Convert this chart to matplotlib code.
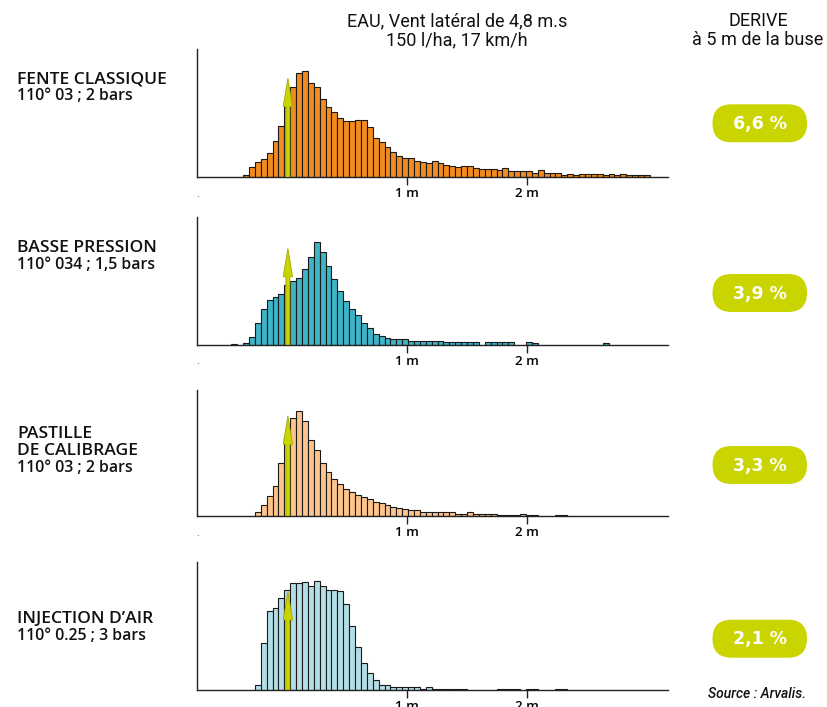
import numpy as np
import matplotlib
matplotlib.use("Agg")
import matplotlib.pyplot as plt
from matplotlib.patches import FancyBboxPatch

# ---------------- data ----------------
bin_start = -0.461   # left edge of first bin (m)
bin_width = 0.049    # bin width (m)
nozzle_x = 0.01      # position of the yellow arrow (m)

header_left = ["EAU, Vent latéral de 4,8 m.s", "150 l/ha, 17 km/h"]
header_right = ["DERIVE", "à 5 m de la buse"]

panel_labels = [
    ["FENTE CLASSIQUE", "110° 03 ; 2 bars"],
    ["BASSE PRESSION", "110° 034 ; 1,5 bars"],
    ["PASTILLE", "DE CALIBRAGE", "110° 03 ; 2 bars"],
    ["INJECTION D’AIR", "110° 0.25 ; 3 bars"],
]
drift_values = ["6,6 %", "3,9 %", "3,3 %", "2,1 %"]
xtick_values = [1, 2]
xtick_labels = ["1 m", "2 m"]
source_text = "Source : Arvalis."

fente_classique = [0, 0,
    8, 30, 45, 55, 72, 109, 154, 212, 270, 312, 320, 282, 272, 234, 212,
    197, 179, 168, 168, 171, 171, 150, 117, 105, 90, 76, 64, 59, 57, 50,
    45, 43, 48, 42, 38, 34, 31, 33, 33, 28, 24, 24, 24, 21, 28, 18, 18,
    18, 18, 14, 21, 14, 14, 14, 7, 11, 7, 11, 11, 11, 11, 7, 11, 7, 11,
    7, 7, 7, 7]
basse_pression = [4, 0,
    7, 23, 65, 108, 135, 143, 152, 181, 193, 201, 227, 263, 309, 278, 238,
    199, 163, 132, 109, 89, 67, 52, 32, 27, 20, 18, 17, 17, 13, 12, 11,
    11, 11, 11, 9, 9, 9, 9, 9, 9, 0, 8, 8, 8, 8, 8, 0, 0, 9, 6,
    0, 0, 0, 0, 0, 0, 0, 0, 0, 0, 0, 5, 0, 0, 0, 0, 0, 0, 0]
pastille = [0, 0,
    0, 0, 11, 32, 59, 89, 158, 238, 295, 315, 285, 229, 199, 159, 131,
    110, 95, 81, 73, 64, 57, 51, 42, 39, 32, 27, 24, 21, 17, 17, 13,
    13, 13, 11, 11, 11, 7, 7, 11, 7, 7, 7, 5, 2, 2, 2, 2, 7, 2, 2,
    0, 0, 0, 2, 2, 0, 0, 0, 0, 0, 0, 0, 0, 0, 0, 0, 0, 0, 0]
injection_air = [0, 0,
    0, 0, 14, 141, 236, 245, 276, 300, 320, 320, 323, 311, 327, 313, 300,
    299, 296, 257, 191, 129, 81, 50, 29, 16, 14, 10, 8, 8, 8, 8, 2,
    8, 2, 2, 2, 2, 2, 2, 0, 0, 0, 0, 0, 2, 2, 2, 2, 0, 2, 2,
    0, 0, 0, 2, 2, 0, 0, 0, 0, 0, 0, 0, 0, 0, 0, 0, 0, 0, 0]
arrow_heights = [297, 290, 300, 295]

series = [fente_classique, basse_pression, pastille, injection_air]
bar_colors = ["#f28c1e", "#3db5c7", "#fdc58c", "#b4dee6"]

# ---------------- layout ----------------
W, H = 827, 707
fig = plt.figure(figsize=(W / 100, H / 100), dpi=100)
ov = fig.add_axes([0, 0, 1, 1], zorder=0)
ov.set_xlim(0, W)
ov.set_ylim(H, 0)
ov.axis("off")

panel_px = [(49.3, 177.3), (217.3, 345.0), (390.0, 516.0), (561.7, 690.0)]
label_y = [[79, 96], [248, 265], [434, 451, 468], [619, 636]]
badge_y = [123.3, 293.0, 465.0, 638.7]
ax_left, ax_right = 197, 668
lime = "#cad400"

for i, (top, bot) in enumerate(panel_px):
    ax = fig.add_axes([ax_left / W, (H - bot) / H, (ax_right - ax_left) / W, (bot - top) / H], zorder=1)
    ax.patch.set_alpha(0)
    h = np.array(series[i], dtype=float)
    x = bin_start + bin_width * np.arange(len(h))
    m = h > 0
    ax.bar(x[m], h[m], width=bin_width, align="edge", color=bar_colors[i],
           edgecolor="#1a1a1a", linewidth=0.8, zorder=2)
    ax.set_xlim((ax_left - 286.7) / 120.3, (ax_right - 286.7) / 120.3)
    ax.set_ylim(0, 3 * (bot - top))
    for s in ["top", "right"]:
        ax.spines[s].set_visible(False)
    for s in ["left", "bottom"]:
        ax.spines[s].set_linewidth(1.0)
        ax.spines[s].set_color("#222222")
    ax.set_yticks([])
    ax.set_xticks(xtick_values)
    ax.set_xticklabels(xtick_labels, fontsize=9.5, fontweight="semibold", family="Open Sans")
    ax.tick_params(axis="x", length=6, width=1, pad=1.0, color="#222222")
    ax.arrow(nozzle_x, 0, 0, arrow_heights[i], width=0.033, head_width=0.078,
             head_length=85, length_includes_head=True, fc=lime, ec="#a2a800",
             lw=0.6, zorder=4)
    # tiny dot under axis origin
    ov.text(ax_left, bot + 17, ".", fontsize=6, ha="center", va="center", color="#222222")

    lines = panel_labels[i]
    for k, (t, yy) in enumerate(zip(lines, label_y[i])):
        fs = 12.6 if k < len(lines) - 1 else 11.4
        ov.text(17, yy, t, fontsize=fs, fontweight="semibold", family="Open Sans",
                ha="left", va="center", color="#111111")

    cy = badge_y[i]
    ov.add_patch(FancyBboxPatch((712.5, cy - 19), 94.5, 38,
                                boxstyle="round,pad=0,rounding_size=19",
                                fc=lime, ec="none"))
    ov.text(759.7, cy + 0.5, drift_values[i], fontsize=12.5, fontweight="bold",
            family="DejaVu Sans", color="white", ha="center", va="center")

for t, yy in zip(header_left, [21, 40]):
    ov.text(457, yy, t, fontsize=13, family="Roboto", ha="center", va="center", color="#111111")
for t, yy in zip(header_right, [21, 40]):
    ov.text(758, yy, t, fontsize=13, family="Roboto", ha="center", va="center", color="#111111")

ov.text(757, 694, source_text, fontsize=10, style="italic", fontweight="medium",
        family="Roboto", ha="center", va="center", color="#111111")

fig.savefig("out.png", dpi=100)
